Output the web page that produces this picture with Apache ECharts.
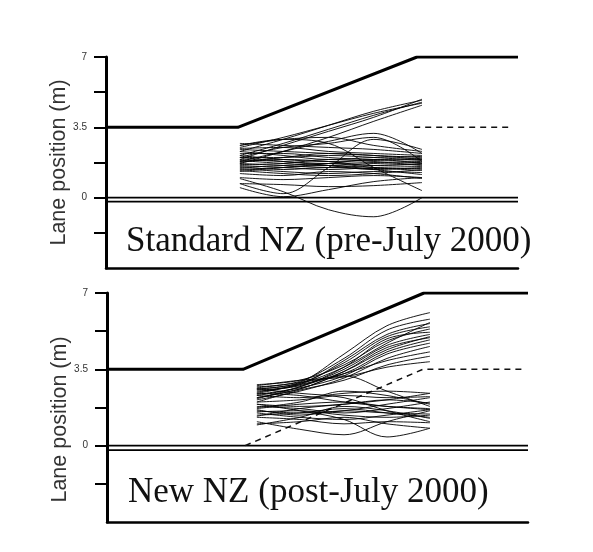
<!DOCTYPE html>
<html>
<head>
<meta charset="utf-8">
<script src="https://cdn.jsdelivr.net/npm/echarts@6/dist/echarts.min.js"></script>
<style>
  html, body { margin: 0; padding: 0; background: #fff; }
  #chart { width: 593px; height: 552px; }
</style>
</head>
<body>
<div id="chart"></div>
<script>
// Lateral lane position (m) along the merge section, distance axis in % of section length.

// Y-axis ticks and labels (m)
const Y_TICKS = [-1.75, 0, 1.75, 3.5, 5.25, 7];
const Y_LABELS = [0, 3.5, 7];

// Road geometry: outer edge line, painted guide line, centre line pair
const TOP_EDGE = [[0, 3.5], [32, 3.5], [75.5, 7], [100, 7]];
const TOP_GUIDE = [[74.8, 3.5], [98.5, 3.5]];
const BOTTOM_EDGE = [[0, 3.5], [32.3, 3.5], [75.3, 7], [100, 7]];
const BOTTOM_GUIDE = [[32.8, 0], [75, 3.5], [98.6, 3.5]];
const CENTRE_LINES = [0, -0.2];

// Sample stations for the recorded vehicle paths
const TOP_X = [32.5, 43, 54, 65, 76.7];
const BOTTOM_X = [35.6, 45.8, 56.3, 66.5, 76.7];

// Standard NZ layout: lane position at each station, one row per vehicle
const TOP_RUNS = [
  [2.3, 2.9, 3.6, 4.3, 4.85],
  [2.1, 2.7, 3.4, 4.1, 4.75],
  [1.9, 2.6, 3.3, 4.0, 4.9],
  [2.5, 3.0, 3.6, 4.2, 4.7],
  [1.7, 2.3, 3.0, 3.8, 4.6],
  [1.8, 2.3, 2.8, 3.2, 2.2],
  [2.0, 2.5, 2.7, 3.0, 1.8],
  [2.6, 2.9, 3.0, 2.6, 2.3],
  [2.6, 2.9, 2.7, 1.5, 0.35],
  [0.7, 0.2, 1.5, 2.9, 2.4],
  [0.95, 0.3, -0.6, -0.95, 0.0],
  [0.5, 0.05, 0.4, 0.8, 1.0],
  [0.7, 0.65, 0.55, 0.6, 0.75],
  [1.0, 0.9, 1.0, 1.1, 1.0],
  [1.2, 1.1, 1.3, 1.2, 0.95],
  [2.3, 2.1, 1.9, 2.0, 2.05],
  [2.2, 2.2, 2.0, 1.9, 1.95],
  [2.1, 1.9, 1.8, 1.85, 1.9],
  [2.0, 2.0, 2.1, 2.0, 1.85],
  [1.9, 1.8, 1.7, 1.75, 1.8],
  [1.85, 1.7, 1.6, 1.7, 1.75],
  [1.8, 1.9, 1.8, 1.6, 1.7],
  [1.7, 1.6, 1.5, 1.6, 1.65],
  [1.65, 1.7, 1.9, 1.8, 1.6],
  [1.6, 1.5, 1.4, 1.5, 1.55],
  [1.55, 1.4, 1.5, 1.45, 1.45],
  [1.5, 1.6, 1.7, 1.5, 1.35],
  [1.45, 1.3, 1.2, 1.3, 1.25],
  [1.4, 1.5, 1.6, 1.4, 1.15],
  [1.35, 1.2, 1.1, 1.2, 1.4],
  [2.4, 2.3, 2.2, 2.1, 2.0],
  [2.0, 1.8, 1.6, 1.4, 1.5],
  [1.3, 1.5, 1.7, 1.9, 1.7],
  [1.75, 2.0, 2.2, 2.1, 1.9],
  [2.45, 2.5, 2.3, 2.2, 2.1],
  [2.7, 2.6, 2.5, 2.4, 2.2]
];

// New NZ layout: lane position at each station, one row per vehicle
const BOTTOM_RUNS = [
  [2.6, 2.9, 4.2, 5.5, 6.1],
  [2.7, 2.95, 4.0, 5.3, 5.8],
  [2.5, 2.8, 3.9, 5.1, 5.6],
  [2.4, 2.85, 3.8, 5.0, 5.45],
  [2.8, 3.0, 3.7, 4.8, 5.35],
  [2.3, 2.7, 3.6, 4.9, 5.2],
  [2.55, 2.75, 3.5, 4.6, 5.1],
  [2.2, 2.6, 3.4, 4.5, 4.95],
  [2.65, 2.9, 3.3, 4.3, 4.85],
  [2.35, 2.65, 3.2, 4.2, 4.7],
  [2.1, 2.5, 3.1, 4.0, 4.55],
  [2.45, 2.8, 3.3, 3.9, 4.3],
  [2.0, 2.55, 3.0, 3.7, 4.1],
  [2.75, 3.0, 3.15, 3.6, 3.85],
  [2.15, 2.7, 3.4, 4.4, 5.0],
  [2.6, 2.85, 3.6, 4.7, 5.65],
  [2.3, 2.2, 2.4, 2.5, 2.4],
  [2.0, 2.1, 2.3, 2.2, 2.25],
  [1.9, 1.8, 1.9, 2.1, 1.95],
  [1.8, 1.7, 1.5, 1.7, 2.0],
  [1.7, 1.9, 2.0, 1.8, 1.65],
  [1.6, 1.5, 1.6, 1.9, 2.2],
  [1.55, 1.6, 1.4, 1.3, 1.4],
  [1.5, 1.3, 1.2, 1.4, 1.65],
  [1.4, 1.5, 1.7, 1.5, 1.3],
  [1.3, 1.2, 1.0, 1.1, 1.05],
  [1.1, 0.75, 0.5, 1.1, 1.6],
  [1.9, 1.6, 1.2, 0.4, 0.8],
  [2.2, 2.6, 3.2, 2.5, 1.8],
  [1.0, 1.1, 1.3, 1.0, 0.8],
  [1.65, 1.4, 1.6, 1.5, 1.45],
  [2.4, 2.3, 2.0, 1.8, 1.7],
  [1.35, 1.7, 1.9, 2.1, 2.4],
  [0.95, 1.3, 1.8, 1.6, 1.25],
  [1.75, 2.0, 2.5, 2.3, 1.9],
  [2.6, 2.4, 2.2, 1.6, 1.1]
];

const PANEL_TITLES = ['Standard NZ (pre-July 2000)', 'New NZ (post-July 2000)'];
const Y_NAME = 'Lane position (m)';

function track(xs, ys) {
  return xs.map((x, i) => [x, ys[i]]);
}

function panelSeries(g, edge, guide, xs, runs) {
  const out = [];
  CENTRE_LINES.forEach(v => {
    out.push({
      type: 'line', xAxisIndex: g, yAxisIndex: g, silent: true,
      data: [[0, v], [100, v]], showSymbol: false,
      lineStyle: { color: '#000', width: 1.8 }
    });
  });
  out.push({
    type: 'line', xAxisIndex: g, yAxisIndex: g, silent: true,
    data: edge, showSymbol: false,
    lineStyle: { color: '#000', width: 3 }
  });
  out.push({
    type: 'line', xAxisIndex: g, yAxisIndex: g, silent: true,
    data: guide, showSymbol: false,
    lineStyle: { color: '#111', width: 1.5, type: [6, 5] }
  });
  runs.forEach(r => {
    out.push({
      type: 'line', xAxisIndex: g, yAxisIndex: g, silent: true,
      data: track(xs, r), showSymbol: false, smooth: 0.35,
      lineStyle: { color: '#000', width: 1, opacity: 0.9 }
    });
  });
  return out;
}

function yAxis(g, namePad) {
  return {
    type: 'value', gridIndex: g, min: -3.5, max: 7, interval: 1.75,
    name: Y_NAME, nameLocation: 'middle', nameGap: 36, nameMoveOverlap: false,
    nameTextStyle: {
      fontFamily: 'Liberation Sans', fontSize: 21.5, color: '#333',
      padding: namePad
    },
    axisLine: { show: true, lineStyle: { color: '#000', width: 3 } },
    axisTick: {
      show: true, length: 12, customValues: Y_TICKS,
      lineStyle: { color: '#000', width: 2 }
    },
    axisLabel: {
      show: true, customValues: Y_LABELS, margin: 19,
      fontFamily: 'Liberation Sans', fontSize: 10, color: '#333'
    },
    splitLine: { show: false }
  };
}

function xAxis(g) {
  return {
    type: 'value', gridIndex: g, min: 0, max: 100,
    axisLine: { show: true, onZero: false, lineStyle: { color: '#000', width: 2.5 } },
    axisTick: { show: false },
    axisLabel: { show: false },
    splitLine: { show: false }
  };
}

const titleStyle = { fontFamily: 'Liberation Serif', fontSize: 35, fontWeight: 'normal', color: '#111' };

const chart = echarts.init(document.getElementById('chart'), null, { renderer: 'canvas' });
chart.setOption({
  animation: false,
  backgroundColor: '#fff',
  title: [
    { text: PANEL_TITLES[0], left: 126, top: 224, padding: 0, textStyle: titleStyle },
    { text: PANEL_TITLES[1], left: 128, top: 475, padding: 0, textStyle: titleStyle }
  ],
  grid: [
    { left: 106, top: 57, width: 412, height: 211 },
    { left: 107, top: 293, width: 421, height: 229 }
  ],
  xAxis: [xAxis(0), xAxis(1)],
  yAxis: [yAxis(0, [0, 0, 0, 0]), yAxis(1, [0, 24, 0, 0])],
  series: [].concat(
    panelSeries(0, TOP_EDGE, TOP_GUIDE, TOP_X, TOP_RUNS),
    panelSeries(1, BOTTOM_EDGE, BOTTOM_GUIDE, BOTTOM_X, BOTTOM_RUNS)
  )
});
</script>
</body>
</html>
